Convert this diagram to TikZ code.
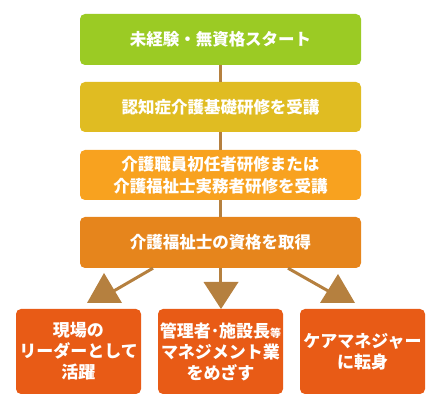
\documentclass[tikz,border=0pt]{standalone}
\usepackage{fontspec}
\setmainfont{Noto Sans CJK JP}
\usepackage{tikz}

\definecolor{stepgreen}{HTML}{9BCB24}
\definecolor{stepmustard}{HTML}{E0BC22}
\definecolor{steporange}{HTML}{F8A21F}
\definecolor{stepdark}{HTML}{E6851C}
\definecolor{goalred}{HTML}{E85B16}
\definecolor{linkbrown}{HTML}{B5803F}

\tikzset{
    stepbox/.style = {rounded corners = 5pt, text = white, align = center,
        minimum width = 281pt, minimum height = 50pt, inner sep = 0pt,
        font = \fontsize{16.5}{22}\selectfont\bfseries},
    goalbox/.style = {rounded corners = 5pt, fill = goalred, text = white, align = center,
        minimum width = 125pt, minimum height = 85pt, inner sep = 0pt,
        font = \fontsize{17}{21}\selectfont\bfseries},
    link/.style = {linkbrown, line width = 3pt},
}

\begin{document}
\begin{tikzpicture}[x = 1pt, y = -1pt]
        \useasboundingbox (0,0) rectangle (440,409);
        % steps
        \node [stepbox, fill = stepgreen, minimum height = 51pt] (start) at (220.5, 39.5) {未経験・無資格スタート};
        \node [stepbox, fill = stepmustard] (basic) at (220.5, 107) {認知症介護基礎研修を受講};
        \node [stepbox, fill = steporange] (course) at (220.5, 175) {介護職員初任者研修または\\介護福祉士実務者研修を受講};
        \node [stepbox, fill = stepdark, minimum height = 51pt] (license) at (220.5, 242.5) {介護福祉士の資格を取得};
        \draw [link] (start) -- (basic);
        \draw [link] (basic) -- (course);
        \draw [link] (course) -- (license);
        % goals
        \node [goalbox] (leader) at (78.5, 351.5) {現場の\\リーダーとして\\活躍};
        \node [goalbox] (manager) at (220.5, 351.5) {管理者･施設長{\fontsize{11}{11}\selectfont 等}\\マネジメント業\\をめざす};
        \node [goalbox] (carem) at (362.5, 351.5) {ケアマネジャー\\に転身};
        % arrows
        \coordinate (tipL) at (112, 292);
        \coordinate (tipM) at (220.5, 284);
        \coordinate (tipR) at (330, 292);
        \draw [link] ([xshift = -67.5pt]license.south) -- (tipL);
        \draw [link] (license.south) -- (tipM);
        \draw [link] ([xshift = 67.5pt]license.south) -- (tipR);
        \fill [linkbrown] (104, 273) -- (87, 303) -- (122, 303) -- cycle;
        \fill [linkbrown] (203.5, 282) -- (238.5, 282) -- (221, 309) -- cycle;
        \fill [linkbrown] (338, 274) -- (320, 303) -- (355, 303) -- cycle;
    \end{tikzpicture}
\end{document}
